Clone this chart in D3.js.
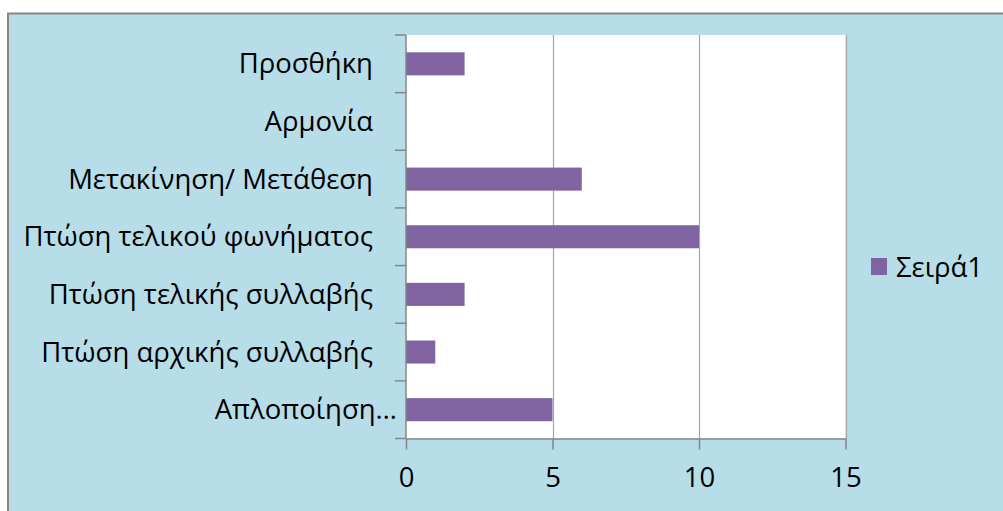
<!DOCTYPE html>
<html>
<head>
<meta charset="utf-8">
<script src="https://cdn.jsdelivr.net/npm/d3@7"></script>
<style>
  html, body { margin: 0; padding: 0; background: #ffffff; }
  svg { display: block; }
  text { font-family: "Open Sans", "Noto Sans", sans-serif; fill: #000; }
</style>
</head>
<body>
<svg id="chart" width="1003" height="511"></svg>
<script>
// Categories listed top to bottom as they appear on the axis
const categories = [
  "Προσθήκη",
  "Αρμονία",
  "Μετακίνηση/ Μετάθεση",
  "Πτώση τελικού φωνήματος",
  "Πτώση τελικής συλλαβής",
  "Πτώση αρχικής συλλαβής",
  "Απλοποίηση…"
];
const seriesName = "Σειρά1";
const values = [2, 0, 6, 10, 2, 1, 5];
const xTicks = [0, 5, 10, 15];

const W = 1003, H = 511;
const FS = 27.5;
const svg = d3.select("#chart");

// chart frame
svg.append("rect")
  .attr("x", 8).attr("y", 13.5)
  .attr("width", W + 20).attr("height", H + 20)
  .attr("fill", "#b7dde8")
  .attr("stroke", "#868686").attr("stroke-width", 2);

const plot = { left: 406, right: 845.5, top: 35, bottom: 438.5 };

const x = d3.scaleLinear().domain([0, 15]).range([plot.left, plot.right]);
const y = d3.scaleBand().domain(categories)
  .range([plot.top, plot.bottom])
  .paddingInner(0.6).paddingOuter(0.3);
const band = d3.scaleBand().domain(categories).range([plot.top, plot.bottom]);

// plot area
svg.append("rect")
  .attr("x", plot.left).attr("y", plot.top)
  .attr("width", plot.right - plot.left).attr("height", plot.bottom - plot.top)
  .attr("fill", "#ffffff");

// vertical gridlines
svg.append("g").selectAll("line")
  .data(xTicks.filter(d => d > 0))
  .join("line")
  .attr("x1", d => Math.round(x(d)) + 0.5).attr("x2", d => Math.round(x(d)) + 0.5)
  .attr("y1", plot.top).attr("y2", plot.bottom)
  .attr("stroke", "#a6a6a6").attr("stroke-width", 1.2);

// bars
svg.append("g").selectAll("rect")
  .data(categories.map((c, i) => ({ c, v: values[i] })).filter(d => d.v > 0))
  .join("rect")
  .attr("x", x(0))
  .attr("y", d => y(d.c))
  .attr("width", d => x(d.v) - x(0))
  .attr("height", y.bandwidth())
  .attr("fill", "#8064a2");

// x axis
const xAxis = svg.append("g")
  .attr("transform", `translate(0,${plot.bottom})`)
  .call(d3.axisBottom(x).tickValues(xTicks).tickSize(11).tickPadding(18).tickSizeOuter(0));
xAxis.select(".domain").attr("stroke", "#868686").attr("stroke-width", 1.5);
xAxis.selectAll(".tick line").attr("stroke", "#868686").attr("stroke-width", 1.5);
xAxis.selectAll("text").attr("font-size", FS).attr("font-family", '"Open Sans", "Noto Sans", sans-serif');

// y axis: ticks sit on the category boundaries
const yg = svg.append("g");
yg.append("line")
  .attr("x1", plot.left).attr("x2", plot.left)
  .attr("y1", plot.top).attr("y2", plot.bottom)
  .attr("stroke", "#868686").attr("stroke-width", 1.5);
const bounds = categories.map(c => band(c)).concat([plot.bottom]);
yg.selectAll("line.tick")
  .data(bounds)
  .join("line").attr("class", "tick")
  .attr("x1", plot.left - 11).attr("x2", plot.left)
  .attr("y1", d => d).attr("y2", d => d)
  .attr("stroke", "#868686").attr("stroke-width", 1.5);

// category labels; truncated names run a little closer to the axis
yg.selectAll("text")
  .data(categories)
  .join("text")
  .attr("x", d => d.endsWith("…") ? plot.left - 9 : plot.left - 33)
  .attr("y", d => band(d) + band.bandwidth() / 2)
  .attr("dy", "0.35em")
  .attr("text-anchor", "end")
  .attr("font-size", FS)
  .text(d => d);

// legend
const lg = svg.append("g").attr("transform", "translate(871,258)");
lg.append("rect").attr("width", 16).attr("height", 17).attr("fill", "#8064a2");
lg.append("text").attr("x", 25).attr("y", 9).attr("dy", "0.35em")
  .attr("font-size", FS).text(seriesName);
</script>
</body>
</html>
